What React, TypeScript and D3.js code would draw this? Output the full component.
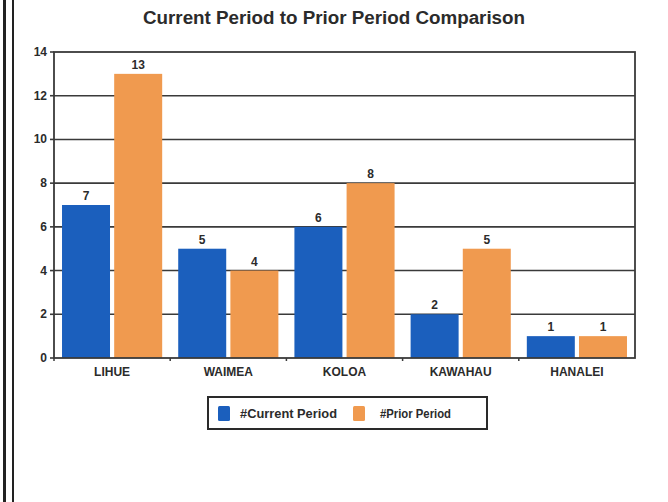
import React from "react";
import * as d3 from "d3";

const categories = ["LIHUE", "WAIMEA", "KOLOA", "KAWAHAU", "HANALEI"];
const seriesNames = ["#Current Period", "#Prior Period"];
const currentPeriod = [7, 5, 6, 2, 1];
const priorPeriod = [13, 4, 8, 5, 1];
const yTicks = [0, 2, 4, 6, 8, 10, 12, 14];
const title = "Current Period to Prior Period Comparison";

const W = 668;
const H = 502;
const colors = ["#1b5fbd", "#f09a4f"];
const FONT = "'Liberation Sans Narrow', 'Liberation Sans', Arial, sans-serif";
const INK = "#2b2b2b";

export default function App() {
  const left = 54, right = 635, top = 52, bottom = 358;
  const x0 = d3.scaleBand<string>().domain(categories).range([left, right]).paddingInner(0.138).paddingOuter(0.069);
  const x1 = d3.scaleBand<string>().domain(seriesNames).range([0, x0.bandwidth()]).paddingInner(0.08);
  const y = d3.scaleLinear().domain([0, 14]).range([bottom, top]);
  const series = [currentPeriod, priorPeriod];

  return (
    <div style={{ position: "fixed", left: 0, top: 0, width: W, height: H, background: "#fff" }}>
      <svg width={W} height={H} style={{ display: "block" }} fontFamily={FONT}>
        <rect x={0} y={0} width={W} height={H} fill="#fff" />
        {/* left double border from scan */}
        <line x1={4.5} x2={4.5} y1={0} y2={H} stroke="#222" strokeWidth={3} />
        <line x1={13} x2={13} y1={0} y2={H} stroke="#222" strokeWidth={2} />

        <text x={334} y={24} textAnchor="middle" fontSize={18} fontWeight="bold" fill={INK}
          textLength={382} lengthAdjust="spacingAndGlyphs">{title}</text>

        {/* gridlines */}
        {yTicks.filter(t => t > 0 && t < 14).map(t => (
          <line key={t} x1={left} x2={right} y1={y(t)} y2={y(t)} stroke="#3a3a3a" strokeWidth={1.6} />
        ))}
        {/* y tick marks */}
        {yTicks.map(t => (
          <line key={"tk" + t} x1={left - 4} x2={left} y1={y(t)} y2={y(t)} stroke="#3a3a3a" strokeWidth={1.6} />
        ))}
        {/* bars */}
        {categories.map((c, i) => (
          <g key={c} transform={`translate(${x0(c)},0)`}>
            {seriesNames.map((s, j) => (
              <rect key={s} x={x1(s)} y={y(series[j][i])} width={x1.bandwidth()}
                height={y(0) - y(series[j][i])} fill={colors[j]} />
            ))}
            {seriesNames.map((s, j) => (
              <text key={"l" + s} x={(x1(s) as number) + x1.bandwidth() / 2} y={y(series[j][i]) - 5}
                textAnchor="middle" fontSize={12} fontWeight="bold" fill={INK}>{series[j][i]}</text>
            ))}
          </g>
        ))}
        {/* frame */}
        <rect x={left} y={top} width={right - left} height={bottom - top} fill="none" stroke="#3a3a3a" strokeWidth={1.8} />
        {/* category boundary ticks */}
        {categories.map((c, i) => (
          <line key={"ct" + c} x1={left + i * x0.step()} x2={left + i * x0.step()} y1={bottom} y2={bottom + 3}
            stroke="#3a3a3a" strokeWidth={1.5} />
        ))}
        {/* y labels */}
        {yTicks.map(t => (
          <text key={"yl" + t} x={left - 7} y={y(t) + 4} textAnchor="end" fontSize={12} fontWeight="bold" fill={INK}>{t}</text>
        ))}
        {/* x labels */}
        {categories.map(c => (
          <text key={"xl" + c} x={(x0(c) as number) + x0.bandwidth() / 2} y={376} textAnchor="middle"
            fontSize={12} fontWeight="bold" fill={INK}>{c}</text>
        ))}
        {/* legend */}
        <rect x={208} y={397} width={279} height={32} fill="#fff" stroke="#2a2a2a" strokeWidth={2} />
        <rect x={218} y={406} width={12} height={15} fill={colors[0]} rx={1.5} />
        <text x={240} y={418} fontSize={12} fontWeight="bold" fill={INK} textLength={97} lengthAdjust="spacingAndGlyphs">{seriesNames[0]}</text>
        <rect x={353} y={406} width={12} height={15} fill={colors[1]} rx={1.5} />
        <text x={380} y={418} fontSize={12} fontWeight="bold" fill={INK} textLength={71} lengthAdjust="spacingAndGlyphs">{seriesNames[1]}</text>
      </svg>
    </div>
  );
}
